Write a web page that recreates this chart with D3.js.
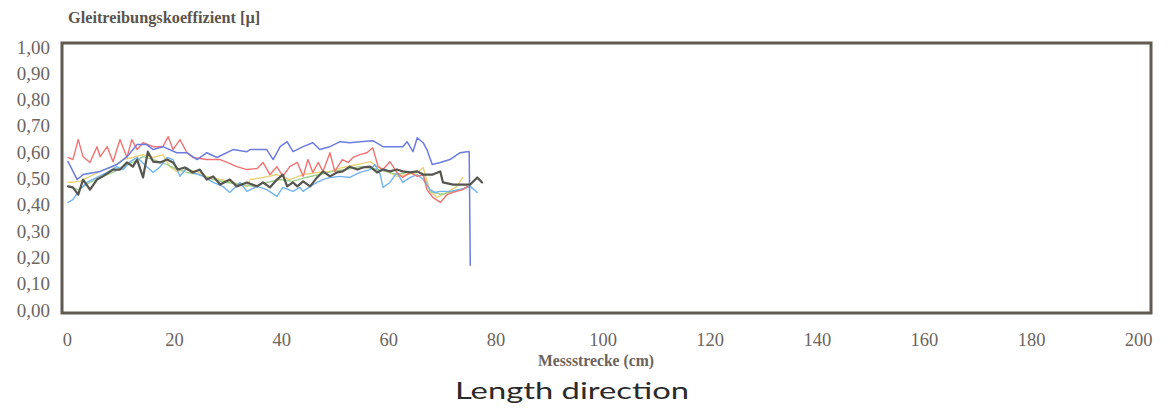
<!DOCTYPE html>
<html><head><meta charset="utf-8">
<script src="https://cdn.jsdelivr.net/npm/d3@7"></script>
<style>
html,body{margin:0;padding:0;background:#fff;}
svg{display:block;}
</style></head>
<body>
<svg id="chart" width="1168" height="409"></svg>
<script>
// ---- data (x in cm, y = Gleitreibungskoeffizient) ----
const yTicks = [0,0.1,0.2,0.3,0.4,0.5,0.6,0.7,0.8,0.9,1.0];
const xTicks = [0,20,40,60,80,100,120,140,160,180,200];

const blueX = [0.2,1.9,3.0,6.2,9.3,11.2,13.1,14.9,16.1,17.9,20.5,22.4,24.3,26.1,28.0,31.0,33.6,34.2,37.3,38.5,39.8,41.1,42.2,44.1,45.9,47.2,49.1,51.0,52.8,54.7,57.1,59.0,62.7,63.5,64.6,65.4,66.5,67.2,68.2,69.7,71.5,73.4,74.7,75.1,75.3];
const blueY = [0.564,0.496,0.515,0.527,0.553,0.583,0.629,0.629,0.610,0.621,0.598,0.598,0.572,0.598,0.580,0.610,0.602,0.610,0.610,0.572,0.621,0.640,0.602,0.621,0.636,0.610,0.621,0.640,0.636,0.640,0.644,0.621,0.621,0.640,0.602,0.655,0.636,0.610,0.553,0.561,0.572,0.598,0.602,0.602,0.170];

const redX = [0.2,1.1,2.1,3.0,4.3,5.6,6.2,7.5,8.6,9.9,11.2,12.1,13.1,14.2,16.1,17.9,18.9,19.8,21.1,22.4,23.5,26.1,28.6,29.9,31.7,33.6,35.5,36.6,37.9,39.2,40.3,41.6,43.0,44.1,45.0,45.9,46.9,47.8,49.1,50.0,51.4,52.5,53.4,54.7,56.0,57.1,58.1,59.0,60.3,61.6,62.7,64.1,65.4,66.5,67.2,68.3,69.7,71.0,72.1,73.9,74.8];
const redY = [0.580,0.572,0.648,0.583,0.561,0.621,0.583,0.621,0.564,0.648,0.580,0.648,0.610,0.636,0.621,0.621,0.659,0.610,0.648,0.598,0.580,0.572,0.572,0.561,0.545,0.534,0.538,0.561,0.515,0.545,0.508,0.545,0.561,0.508,0.572,0.523,0.561,0.527,0.598,0.527,0.572,0.561,0.580,0.591,0.598,0.617,0.545,0.534,0.564,0.523,0.504,0.523,0.508,0.515,0.458,0.428,0.409,0.439,0.447,0.458,0.470];

const yellowX = [0.2,2.4,4.3,6.2,8.6,10.5,12.3,14.2,16.1,17.9,19.2,20.5,22.4,24.3,26.1,28.6,31.0,33.6,34.2,36.6,39.2,41.6,44.1,46.7,49.1,51.5,54.2,56.6,57.9,59.8,61.6,63.5,65.4,66.5,67.8,69.1,71.0,72.8,73.9];
const yellowY = [0.485,0.489,0.508,0.527,0.545,0.572,0.580,0.591,0.580,0.591,0.545,0.527,0.534,0.527,0.508,0.496,0.485,0.470,0.496,0.504,0.515,0.496,0.515,0.523,0.527,0.542,0.553,0.564,0.545,0.527,0.508,0.515,0.523,0.542,0.451,0.428,0.447,0.470,0.504];

const greenX = [0.2,2.1,4.3,6.7,8.6,10.5,12.3,14.2,16.1,18.7,20.7,22.4,24.8,27.3,29.9,32.3,34.9,37.3,39.8,42.2,44.6,47.2,49.6,52.0,54.7,57.1,59.5,61.6,63.5,65.4,66.5,67.8,69.7,71.5,73.4,75.0];
const greenY = [0.470,0.458,0.485,0.508,0.523,0.545,0.561,0.583,0.572,0.553,0.534,0.523,0.515,0.496,0.485,0.477,0.470,0.485,0.496,0.489,0.504,0.515,0.527,0.534,0.545,0.538,0.527,0.515,0.523,0.527,0.515,0.451,0.440,0.447,0.458,0.466];

const lblueX = [0.2,1.1,2.4,3.7,5.6,7.5,9.3,10.5,11.8,13.1,14.9,16.1,17.4,18.7,19.8,21.1,22.4,23.5,25.4,27.3,29.1,30.4,32.3,33.6,35.5,37.3,39.2,40.3,42.2,43.5,44.1,45.4,46.7,47.8,49.1,51.0,52.8,54.7,56.6,57.5,58.5,59.0,60.3,61.6,62.7,64.1,65.4,66.5,67.8,68.7,69.7,71.5,73.4,75.3,76.6];
const lblueY = [0.409,0.420,0.458,0.485,0.504,0.523,0.545,0.534,0.564,0.580,0.545,0.523,0.545,0.580,0.572,0.508,0.542,0.523,0.508,0.485,0.470,0.447,0.485,0.451,0.470,0.458,0.432,0.466,0.451,0.466,0.451,0.470,0.485,0.496,0.504,0.508,0.504,0.523,0.534,0.553,0.515,0.466,0.485,0.523,0.485,0.504,0.515,0.496,0.458,0.447,0.451,0.451,0.458,0.470,0.447];

const grayX = [0.2,1.1,2.1,3.0,4.3,5.6,6.7,8.6,9.9,11.2,12.3,13.1,14.2,15.1,16.1,17.4,18.7,19.8,20.7,22.0,23.5,24.8,26.1,27.3,28.6,30.4,31.7,33.6,35.5,36.6,37.9,39.2,40.3,41.1,42.2,43.0,44.1,45.4,46.7,47.8,49.1,50.4,51.5,52.8,54.2,55.3,56.6,57.9,59.0,60.3,61.6,62.7,64.1,65.4,66.5,68.3,69.7,70.2,72.1,73.9,75.3,76.6,77.5];
const grayY = [0.470,0.466,0.439,0.496,0.458,0.496,0.508,0.534,0.534,0.561,0.545,0.572,0.504,0.602,0.564,0.561,0.572,0.561,0.534,0.542,0.523,0.534,0.496,0.508,0.477,0.496,0.470,0.485,0.470,0.485,0.466,0.496,0.515,0.470,0.485,0.470,0.489,0.470,0.504,0.527,0.508,0.523,0.527,0.545,0.534,0.542,0.545,0.523,0.534,0.527,0.534,0.527,0.523,0.527,0.515,0.515,0.527,0.485,0.477,0.477,0.477,0.504,0.485];

const seriesList = [
  {name:"yellow", xs:yellowX, ys:yellowY, color:"#ead27a", w:1.4},
  {name:"green",  xs:greenX,  ys:greenY,  color:"#9fcf90", w:1.4},
  {name:"lblue",  xs:lblueX,  ys:lblueY,  color:"#72b2ee", w:1.4},
  {name:"red",    xs:redX,    ys:redY,    color:"#f07272", w:1.4},
  {name:"blue",   xs:blueX,   ys:blueY,   color:"#6c7ce0", w:1.5},
  {name:"gray",   xs:grayX,   ys:grayY,   color:"#56554f", w:2.2}
];

// ---- drawing ----
const svg = d3.select("#chart");
const frame = {l:62, t:43, r:1151, b:313};
const x = d3.scaleLinear().domain([-0.93, 202.4]).range([frame.l, frame.r]);
const y = d3.scaleLinear().domain([0, 1]).range([310, 47]);
const de = d3.formatLocale({decimal:",", thousands:".", grouping:[3], currency:["","€"]});
const fmt = de.format(".2f");

const labelColor = "#6b655f";
const serif = "'Liberation Serif','Times New Roman',serif";

// y axis labels
const ya = svg.append("g").attr("transform", `translate(${frame.l - 8},0)`)
  .call(d3.axisLeft(y).tickValues(yTicks).tickFormat(fmt).tickSize(0).tickPadding(4));
ya.select(".domain").remove();
ya.selectAll("text").attr("font-family", serif).attr("font-size", 19).attr("fill", labelColor);

// x axis labels
const xa = svg.append("g").attr("transform", `translate(0,${frame.b + 20})`)
  .call(d3.axisBottom(x).tickValues(xTicks).tickFormat(d3.format("d")).tickSize(0).tickPadding(0));
xa.select(".domain").remove();
xa.selectAll("text").attr("font-family", serif).attr("font-size", 18.5).attr("fill", labelColor);

// lines
const line = d3.line().x(d => x(d[0])).y(d => y(d[1]));
const lg = svg.append("g");
seriesList.forEach(s => {
  const pts = s.xs.map((v,i) => [v, s.ys[i]]);
  lg.append("path").datum(pts).attr("d", line)
    .attr("fill","none").attr("stroke", s.color).attr("stroke-width", s.w)
    .attr("stroke-linejoin","round").attr("stroke-linecap","round");
});

// frame
svg.append("rect").attr("x", frame.l).attr("y", frame.t)
  .attr("width", frame.r - frame.l).attr("height", frame.b - frame.t)
  .attr("fill","none").attr("stroke","#615a53").attr("stroke-width",3);

// titles
svg.append("text").attr("x", 68).attr("y", 23)
  .attr("font-family", serif).attr("font-weight","bold").attr("font-size", 16.3)
  .attr("fill","#5a544e").text("Gleitreibungskoeffizient [µ]");
svg.append("text").attr("x", 596).attr("y", 366).attr("text-anchor","middle")
  .attr("font-family", serif).attr("font-weight","bold").attr("font-size", 15.7)
  .attr("fill","#6b625a").text("Messstrecke (cm)");
svg.append("text").attr("x", 572).attr("y", 399).attr("text-anchor","middle")
  .attr("font-family", "Lato, 'DejaVu Sans', sans-serif").attr("font-weight", 400).attr("font-size", 24)
  .attr("fill","#2a2a2a").attr("textLength", 234).attr("lengthAdjust","spacingAndGlyphs")
  .text("Length direction");
</script>
</body></html>
